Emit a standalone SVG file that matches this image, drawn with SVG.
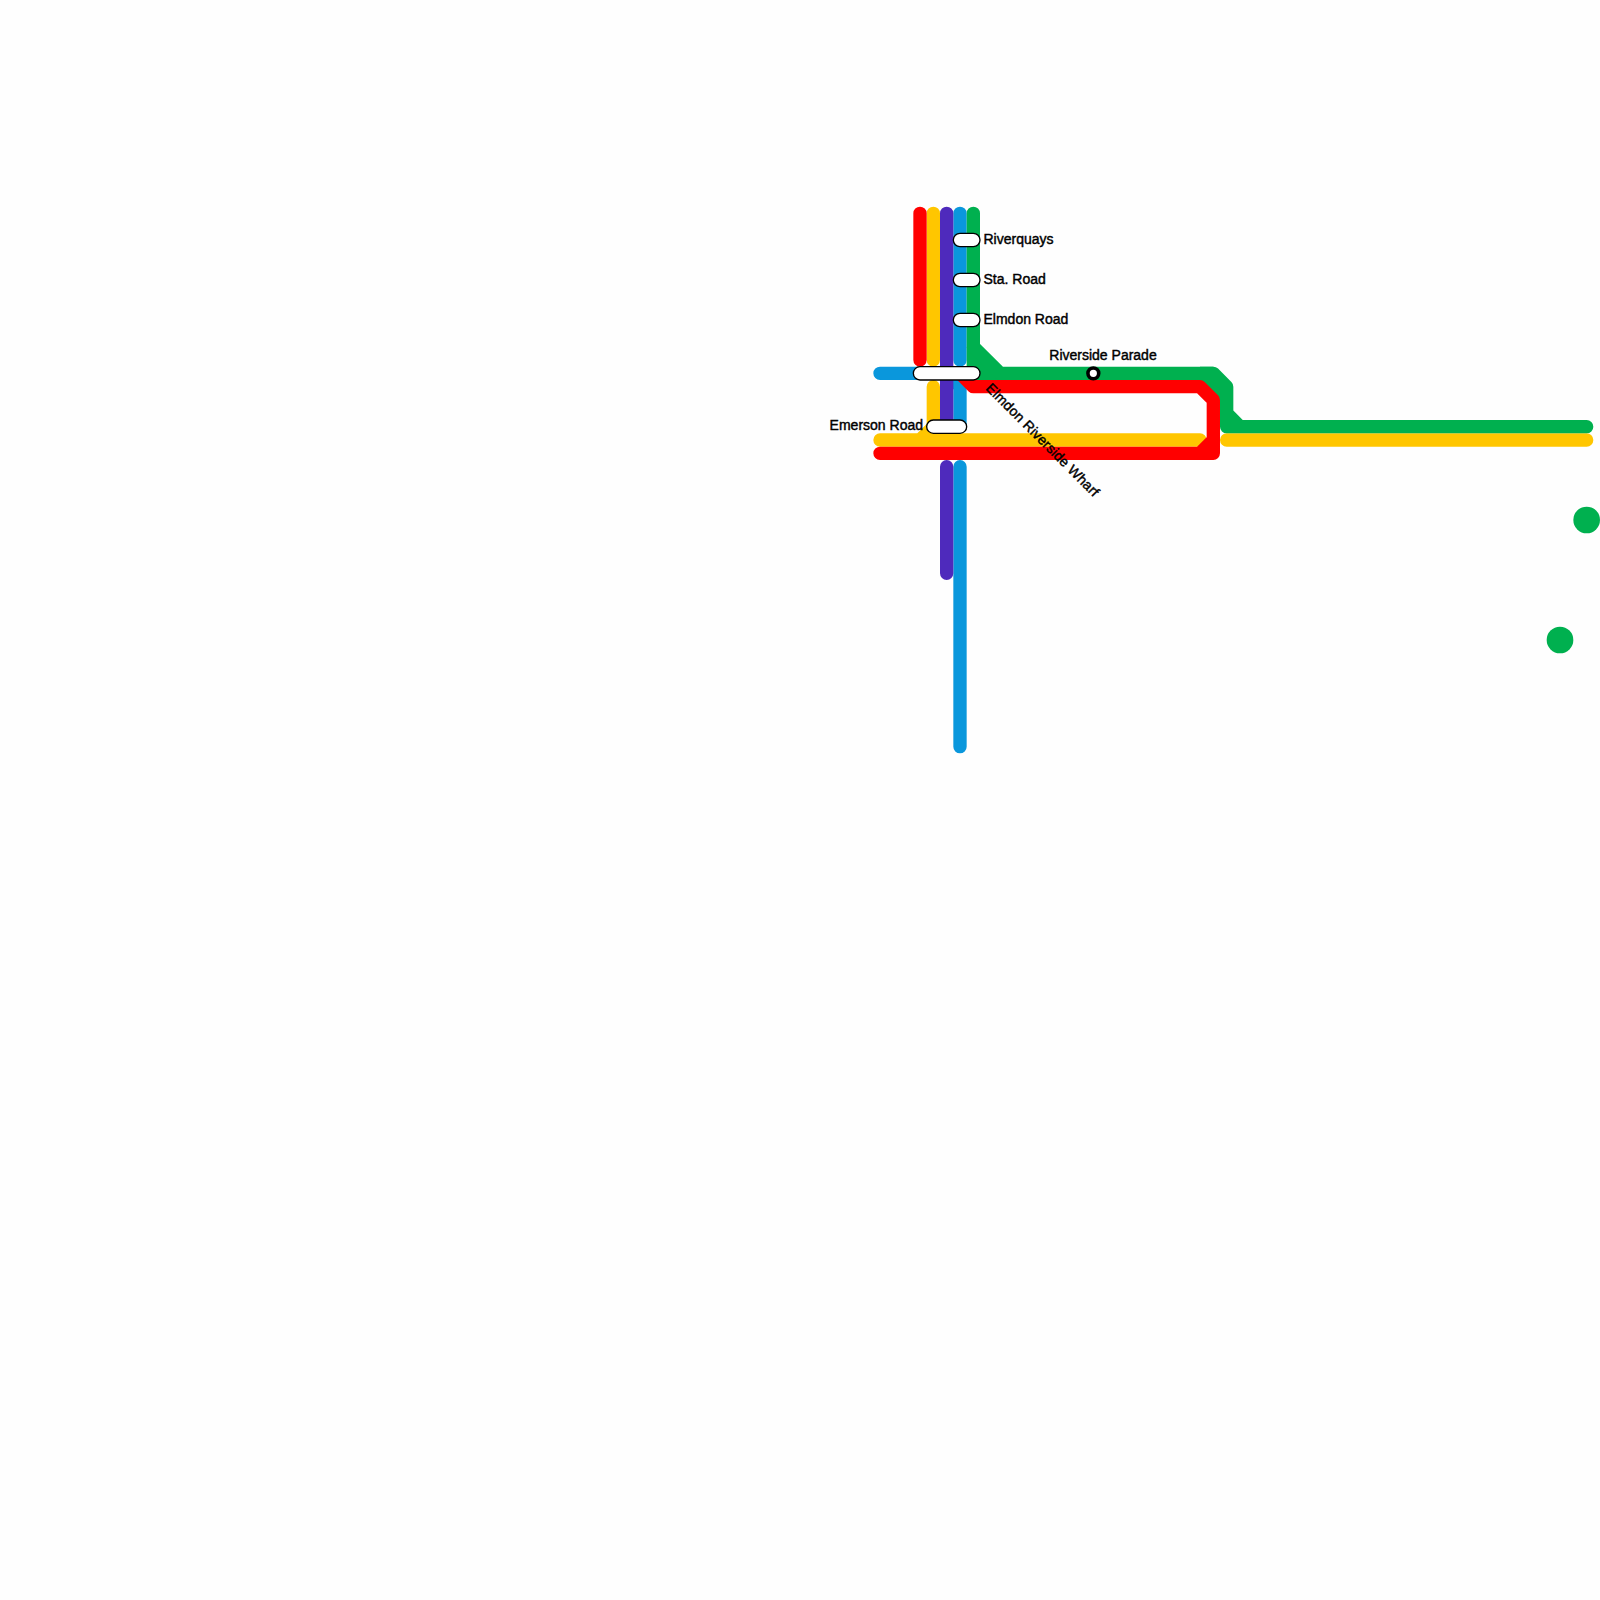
<svg xmlns="http://www.w3.org/2000/svg" width="1600" height="1600" viewBox="0 0 1600 1600">
<style>
.l{fill:none;stroke-width:13.33;stroke-linecap:round;stroke-linejoin:round}
.r{stroke:#ff0000}.y{stroke:#ffc600}.p{stroke:#4e2abc}.b{stroke:#0a97dc}.g{stroke:#00b04f}
.s{fill:#fff;stroke:#000;stroke-width:1.33}
text{font-family:"Liberation Sans",Arial,sans-serif;font-size:14px;font-weight:500;fill:#000;stroke:#000;stroke-width:.42}
</style>
<rect width="1600" height="1600" fill="#fefefe"/>
<g id="connectors">
<path class="l b" d="M960 213.33V360M880 373.33H946.67L960 386.67V426.67M960 466.67V746.67"/>
<path class="l p" d="M946.67 213.33V426.67M946.67 466.67V573.33"/>
<path class="l y" d="M933.33 213.33V360M933.33 386.67V426.67L920 440M880 440H1200M1226.67 440H1586.67"/>
<path d="M966.67 346.67L1000 373.33V380H966.67ZM1200 366.67H1213.33L1226.67 386.67V400H1213.33L1200 386.67Z" fill="#00b04f"/>
<path class="l g" d="M973.33 213.33V346.67L1000 373.33H1213.33L1226.67 386.67V426.67H1586.67M1226.67 413.33L1240 426.67"/>
<path class="l r" d="M920 213.33V360M960 373.33L973.33 386.67H1200L1213.33 400V453.33H880M1213.33 440L1200 453.33"/>
<circle cx="1586.67" cy="520" r="13.33" fill="#00b04f"/>
<circle cx="1560" cy="640" r="13.33" fill="#00b04f"/>
</g>
<g id="riverquays"><rect class="s" x="953.33" y="233.33" width="26.67" height="13.33" rx="6.67"/><text x="983.5" y="243.5">Riverquays</text></g>
<g id="sta-road"><rect class="s" x="953.33" y="273.33" width="26.67" height="13.33" rx="6.67"/><text x="983.5" y="283.5">Sta. Road</text></g>
<g id="elmdon-road"><rect class="s" x="953.33" y="313.33" width="26.67" height="13.33" rx="6.67"/><text x="983.5" y="323.5">Elmdon Road</text></g>
<g id="elmdon-riverside-wharf"><rect class="s" x="913.33" y="366.67" width="66.67" height="13.33" rx="6.67"/><text transform="translate(985 389) rotate(45)" letter-spacing=".12">Elmdon Riverside Wharf</text></g>
<g id="riverside-parade"><circle cx="1093.33" cy="373.33" r="5.4" fill="#fff" stroke="#000" stroke-width="3.6"/><text x="1103" y="360" text-anchor="middle">Riverside Parade</text></g>
<g id="emerson-road"><rect class="s" x="926.67" y="420" width="40" height="13.33" rx="6.67"/><text x="923" y="430" text-anchor="end">Emerson Road</text></g>
</svg>
